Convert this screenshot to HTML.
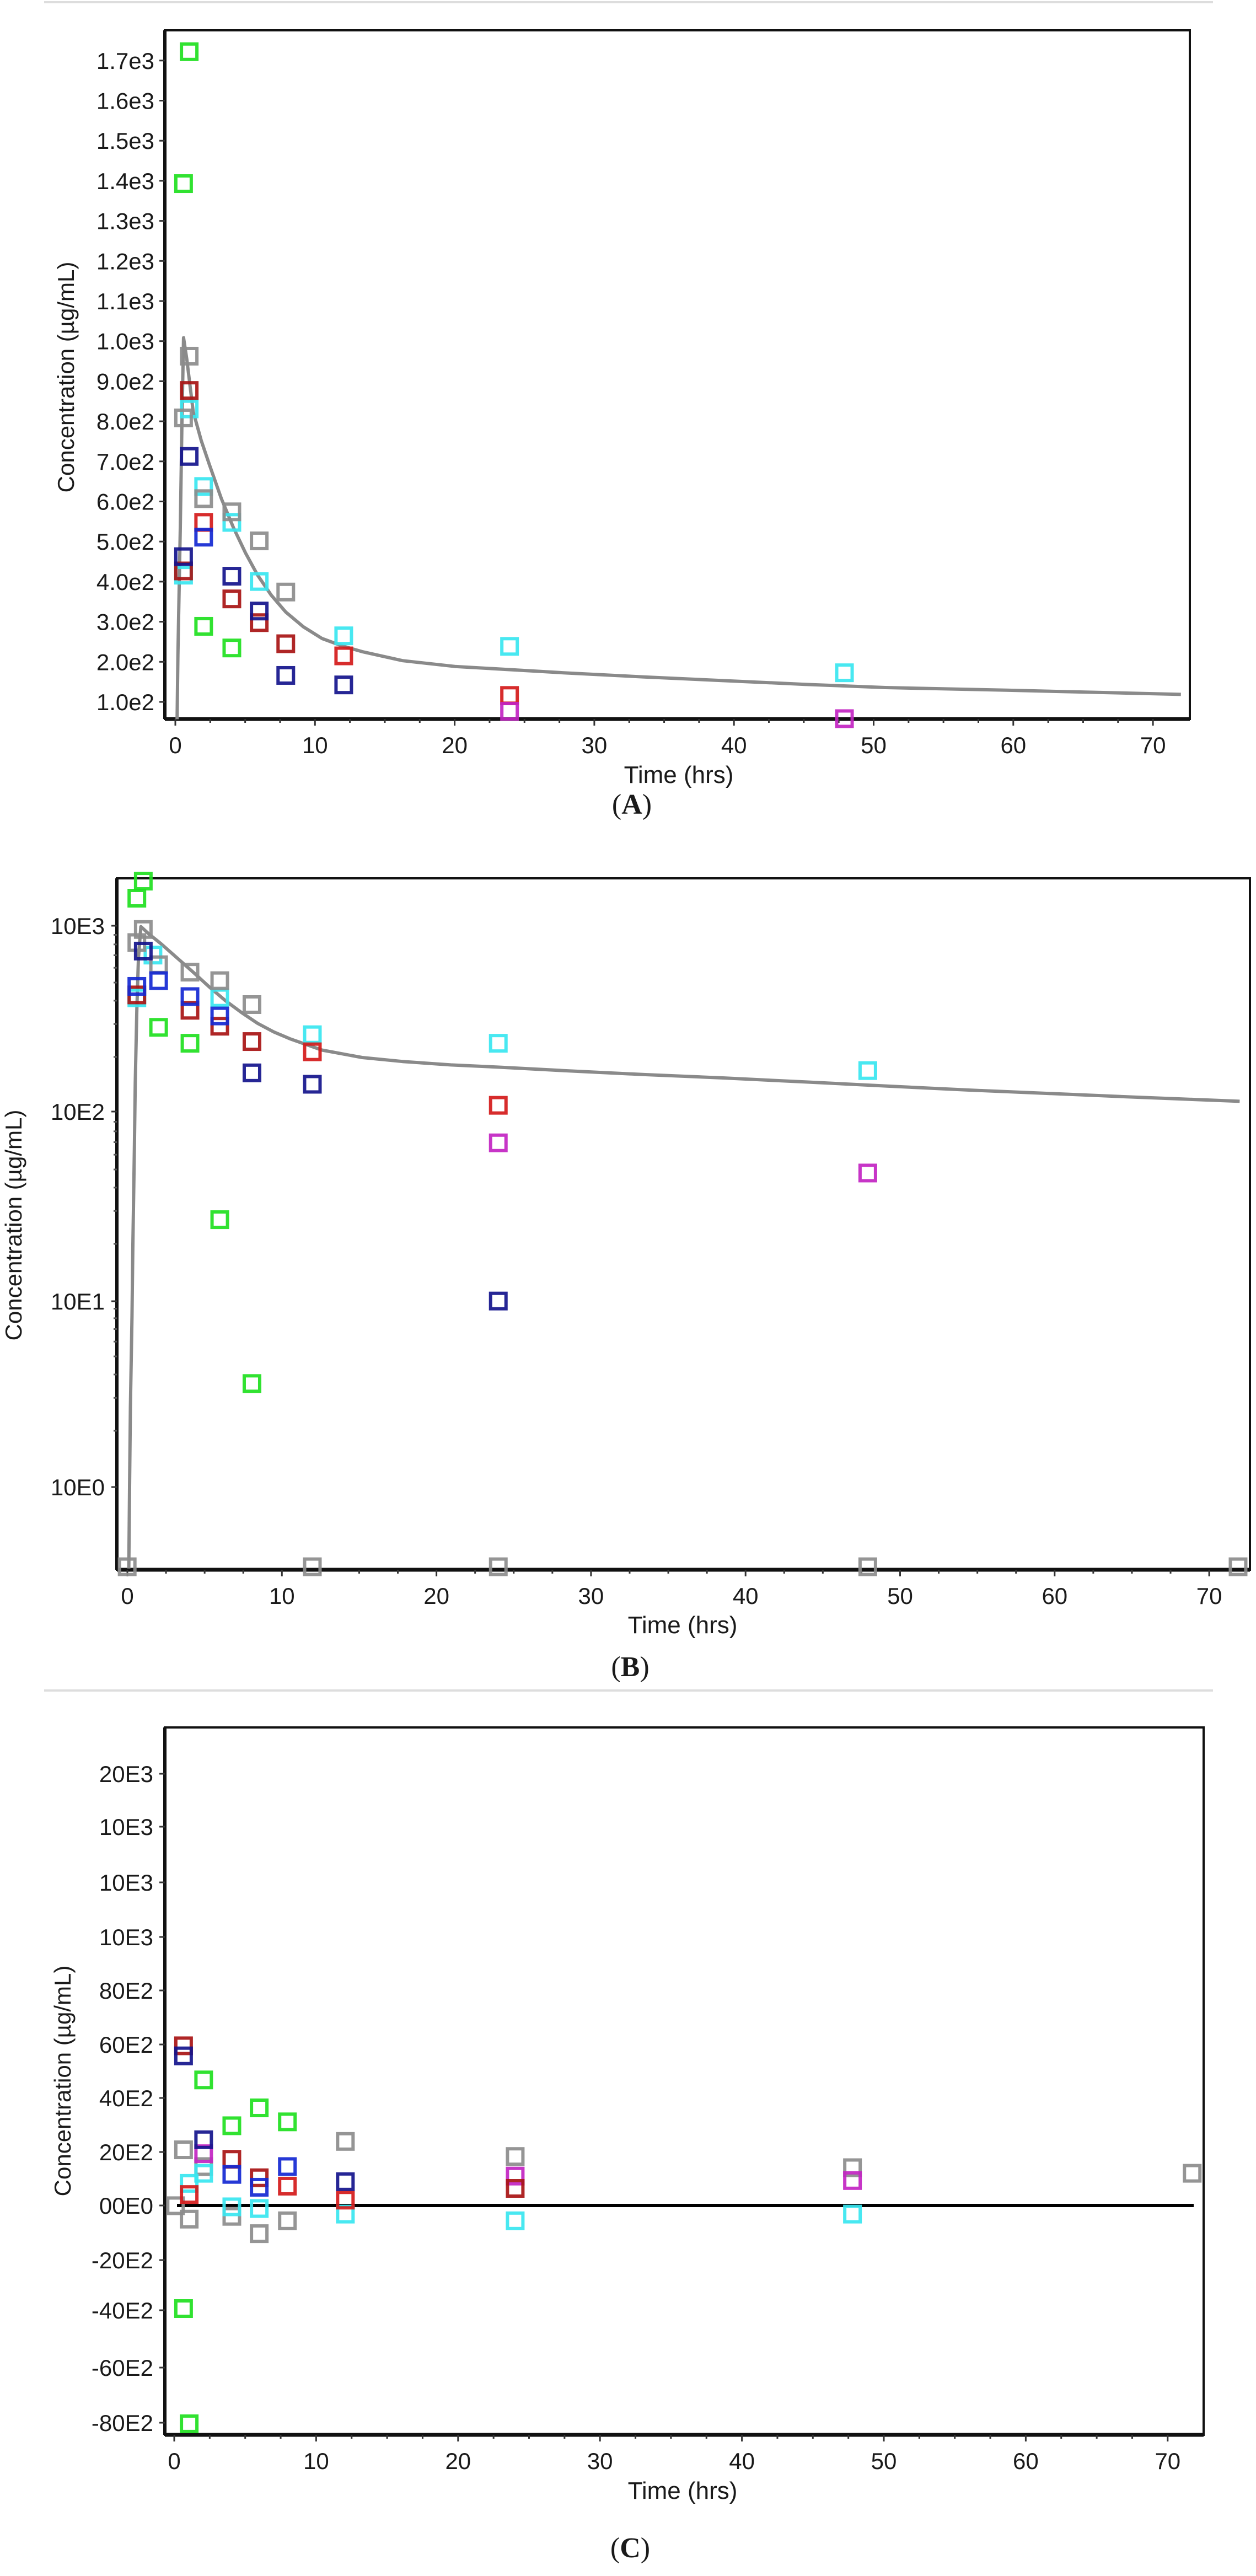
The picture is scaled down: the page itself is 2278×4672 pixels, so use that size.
<!DOCTYPE html>
<html><head><meta charset="utf-8">
<style>
html,body{margin:0;padding:0;background:#fff;}
svg{display:block;}
text{font-family:"Liberation Sans",sans-serif;fill:#1a1a1a;}
</style></head>
<body>
<svg id="s" width="2278" height="4672" xmlns="http://www.w3.org/2000/svg">
<rect width="2278" height="4672" fill="#fff"/>
<line x1="80" y1="4" x2="2200" y2="4" stroke="#ddd" stroke-width="4"/>
<line x1="80" y1="3066" x2="2200" y2="3066" stroke="#ddd" stroke-width="4"/>
<g id="g"></g>
<text x="1146" y="1476" font-size="52" text-anchor="middle" style="font-family:'Liberation Serif',serif">(<tspan font-weight="bold">A</tspan>)</text>
<text x="1143" y="3040" font-size="52" text-anchor="middle" style="font-family:'Liberation Serif',serif">(<tspan font-weight="bold">B</tspan>)</text>
<text x="1143" y="4638" font-size="52" text-anchor="middle" style="font-family:'Liberation Serif',serif">(<tspan font-weight="bold">C</tspan>)</text>
</svg>
<script>
var NS="http://www.w3.org/2000/svg",G=document.getElementById('g');
function el(t,a,txt){var e=document.createElementNS(NS,t);for(var k in a)e.setAttribute(k,a[k]);if(txt!=null)e.textContent=txt;G.appendChild(e);return e;}
var C={g:'#1fe01f',k:'#8c8c8c',r:'#d41a1a',d:'#a81414',n:'#14148c',b:'#1428d2',c:'#38e6f0',m:'#c224c2'};
function sq(x,y,c){el('rect',{x:x-14,y:y-14,width:28,height:28,fill:'none',stroke:C[c],'stroke-width':6,opacity:0.92});}
function panel(o){
 el('rect',{x:o.L,y:o.T,width:o.R-o.L,height:o.B-o.T,fill:'none',stroke:'#111','stroke-width':4});
 el('line',{x1:o.L,y1:o.B,x2:o.R,y2:o.B,stroke:'#111','stroke-width':7});
 el('line',{x1:o.L,y1:o.T,x2:o.L,y2:o.B,stroke:'#111','stroke-width':6});
 for(var h=0;h<=72;h+=2.5){var x=o.x0+h*o.xs;if(x>o.R)break;var maj=(h%10===0);
  el('line',{x1:x,y1:o.B,x2:x,y2:o.B+(maj?12:7),stroke:'#333','stroke-width':3});
  if(maj)el('text',{x:x,y:o.B+62,'font-size':42,'text-anchor':'middle'},String(h));}
 el('text',{x:o.tx,y:o.ty,'font-size':44,'text-anchor':'middle'},'Time (hrs)');
 o.yl.forEach(function(p){el('line',{x1:o.L-10,y1:p[1],x2:o.L,y2:p[1],stroke:'#333','stroke-width':3});
  el('text',{x:o.lx,y:p[1]+15,'font-size':42,'text-anchor':'end'},p[0]);});
 (o.minor||[]).forEach(function(y){el('line',{x1:o.L-6,y1:y,x2:o.L,y2:y,stroke:'#555','stroke-width':3});});
 el('text',{x:0,y:0,'font-size':42,'text-anchor':'middle',transform:'translate('+o.ax+','+o.ay+') rotate(-90)'},'Concentration (\u00b5g/mL)');
}
function conv(pts,fx,fy,oy){return pts.map(function(p){return [p[0]*fx,oy+p[1]*fy];});}
function line(pts,col,w){el('polyline',{points:pts.map(function(p){return p[0].toFixed(1)+','+p[1].toFixed(1)}).join(' '),fill:'none',stroke:col,'stroke-width':w,'stroke-linejoin':'round'});}
function dots(list,fx,fy,oy){list.forEach(function(s){s[1].forEach(function(p){sq(p[0]*fx,oy+p[1]*fy,s[0]);});});}

var A={L:299,T:55,R:2158,B:1304,x0:318,xs:25.33,tx:1231,ty:1420,lx:280,ax:134,ay:684,yl:[]};
var lab=['1.0e2','2.0e2','3.0e2','4.0e2','5.0e2','6.0e2','7.0e2','8.0e2','9.0e2','1.0e3','1.1e3','1.2e3','1.3e3','1.4e3','1.5e3','1.6e3','1.7e3'];
for(var i=0;i<17;i++)A.yl.push([lab[i],1273-i*72.7]);
panel(A);
var fxA=1.46,fyA=0.957;
line(conv([[220,1363],[221,1240],[224,1000],[226,800],[228,640],[232,680],[240,780],[250,835],[260,880],[275,945],[290,1000],[305,1048],[320,1090],[337,1128],[355,1160],[377,1188],[400,1210],[425,1224],[450,1235],[500,1252],[565,1263],[700,1275],[800,1283],[900,1290],[1000,1297],[1100,1303],[1250,1308],[1467,1316]],fxA,fyA,0),'#8a8a8a',6);
dots([['g',[[235,98],[228,348],[253,1187],[288,1228]]],
['c',[[228,1090],[235,775],[253,922],[288,990],[322,1102],[427,1205],[633,1225],[1049,1275]]],
['k',[[235,675],[228,792],[253,945],[288,970],[322,1025],[355,1122]]],
['d',[[235,740],[228,1082],[288,1135],[322,1180],[355,1220]]],
['r',[[253,990],[427,1243],[633,1318]]],
['n',[[235,865],[228,1055],[288,1092],[322,1158],[355,1280],[427,1298]]],
['b',[[253,1018]]],
['m',[[633,1348],[1049,1362]]]],fxA,fyA,0);

var B={L:212,T:1593,R:2267,B:2847,x0:231,xs:28.03,tx:1238,ty:2962,lx:190,ax:39,ay:2222,yl:[['10E3',1679],['10E2',2016],['10E1',2360],['10E0',2697]],minor:[]};
[0,1,2].forEach(function(d){for(var k=2;k<10;k++){B.minor.push(2697-339*(d+Math.log10(k)));}});
panel(B);
var fxB=1.46,fyB=1.032,oB=1500;
line(conv([[160,1303],[161,1150],[162,1020],[164,860],[165,740],[167,560],[168,450],[170,320],[172,230],[175,175],[185,188],[200,205],[220,230],[240,255],[260,281],[280,305],[300,326],[320,345],[340,360],[360,372],[400,392],[450,405],[500,412],[560,418],[620,422],[700,428],[800,435],[900,441],[1000,448],[1100,455],[1200,462],[1300,468],[1400,474],[1540,482]],fxB,fyB,oB),'#8a8a8a',6);
dots([['g',[[178,95],[170,125],[197,352],[236,380],[273,690],[313,978]]],
['c',[[388,365],[619,380],[1078,428],[273,300],[170,300],[190,225]]],
['k',[[178,180],[170,203],[197,242],[236,255],[273,270],[313,312],[158,1300],[388,1300],[619,1300],[1078,1300],[1538,1300]]],
['d',[[170,295],[236,322],[273,350],[313,377]]],
['r',[[388,395],[619,489]]],
['n',[[178,218],[313,432],[388,452],[619,833]]],
['b',[[170,280],[197,270],[236,298],[273,332]]],
['m',[[619,555],[1078,608]]]],fxB,fyB,oB);

var Cp={L:299,T:3133,R:2183,B:4416,x0:316,xs:25.74,tx:1238,ty:4532,lx:278,ax:128,ay:3774,
 yl:[['20E3',3217],['10E3',3313],['10E3',3414],['10E3',3513],['80E2',3610],['60E2',3708],['40E2',3805],['20E2',3903],['00E0',4000],['-20E2',4099],['-40E2',4190],['-60E2',4294],['-80E2',4394]]};
panel(Cp);
el('line',{x1:321,y1:4000,x2:2165,y2:4000,stroke:'#000','stroke-width':6});
var fxC=1.46,fyC=1.014,oC=3100;
dots([['g',[[253,663],[288,745],[322,713],[357,738],[228,1072],[235,1278]]],
['k',[[228,788],[218,888],[235,912],[253,818],[288,907],[322,938],[357,915],[429,773],[640,800],[1059,820],[1481,830]]],
['c',[[235,848],[253,830],[288,890],[322,893],[429,903],[640,915],[1059,903]]],
['m',[[253,795],[640,835],[1059,843]]],
['d',[[228,602],[288,805],[322,838],[640,857]]],
['r',[[235,868],[357,853],[429,878]]],
['n',[[228,620],[253,770],[429,845]]],
['b',[[288,832],[322,855],[357,818]]]],fxC,fyC,oC);
</script>
</body></html>
